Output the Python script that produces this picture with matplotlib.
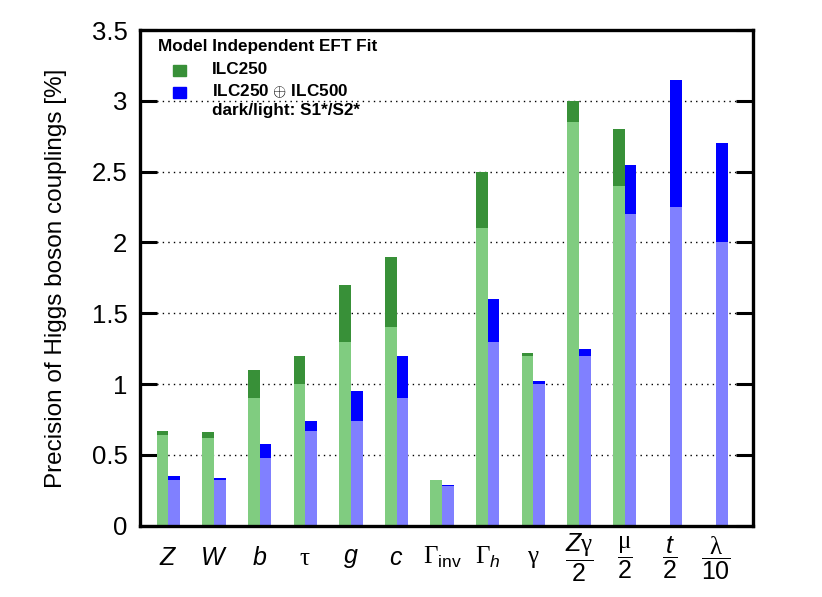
import numpy as np
import matplotlib
matplotlib.use("Agg")
import matplotlib.pyplot as plt
from matplotlib.patches import Rectangle

plt.rcParams['font.family'] = ['Liberation Sans', 'DejaVu Sans']
plt.rcParams['mathtext.fontset'] = 'custom'
plt.rcParams['mathtext.rm'] = 'Liberation Sans'
plt.rcParams['mathtext.it'] = 'Liberation Sans:italic'
plt.rcParams['mathtext.sf'] = 'Liberation Serif'

# couplings and their labels
categories = ['$Z$', '$W$', '$b$', r'$\mathsf{\tau}$', '$g$', '$c$',
              r'$\mathsf{\Gamma}_{\mathrm{inv}}$', r'$\mathsf{\Gamma}_{h}$',
              r'$\mathsf{\gamma}$', r'$\dfrac{Z\mathsf{\gamma}}{2}$',
              r'$\dfrac{\mathsf{\mu}}{2}$', r'$\dfrac{t}{2}$',
              r'$\dfrac{\mathsf{\lambda}}{10}$']

# ILC250 (dark = S1*, light = S2*)
ilc250_s1 = [0.67, 0.66, 1.10, 1.20, 1.70, 1.90, 0.32, 2.50, 1.22, 3.00, 2.80, np.nan, np.nan]
ilc250_s2 = [0.64, 0.62, 0.90, 1.00, 1.30, 1.40, 0.32, 2.10, 1.20, 2.85, 2.40, np.nan, np.nan]
# ILC250 + ILC500
ilc500_s1 = [0.35, 0.34, 0.58, 0.74, 0.95, 1.20, 0.29, 1.60, 1.02, 1.25, 2.55, 3.15, 2.70]
ilc500_s2 = [0.32, 0.32, 0.48, 0.67, 0.74, 0.90, 0.28, 1.30, 1.00, 1.20, 2.20, 2.25, 2.00]

yticks = [0, 0.5, 1, 1.5, 2, 2.5, 3, 3.5]
ytick_labels = ['0', '0.5', '1', '1.5', '2', '2.5', '3', '3.5']

dark_green = '#389038'
light_green = '#80cc80'
dark_blue = '#0000ff'
light_blue = '#8080ff'

W, H = 822, 597
fig = plt.figure(figsize=(W / 100, H / 100), dpi=100)
ax = fig.add_axes([140 / W, 1 - 525.7 / H, (753 - 140) / W, (525.7 - 30) / H])

x = np.arange(len(categories))
w = 0.256
g1 = np.array(ilc250_s1)
g2 = np.array(ilc250_s2)
b1 = np.array(ilc500_s1)
b2 = np.array(ilc500_s2)
has_g = ~np.isnan(g1)

ax.bar(x[has_g] - w / 2, g2[has_g], w, color=light_green, zorder=2)
ax.bar(x[has_g] - w / 2, (g1 - g2)[has_g], w, bottom=g2[has_g], color=dark_green, zorder=2)
ax.bar(x + w / 2, b2, w, color=light_blue, zorder=2)
ax.bar(x + w / 2, b1 - b2, w, bottom=b2, color=dark_blue, zorder=2)

ax.set_xlim(-0.62, 12.81)
ax.set_ylim(0, 3.5)
ax.set_yticks(yticks, ytick_labels)
ax.set_xticks(x, categories)
ax.yaxis.grid(True, linestyle=(0, (1, 3)), color='black', lw=1)
ax.set_axisbelow(True)

ax.tick_params(axis='y', direction='in', length=12, width=2.2, labelsize=18.5,
               right=True, pad=9)
ax.tick_params(axis='x', length=0, labelsize=18, pad=23)
for lab in ax.get_xticklabels():
    lab.set_va('center')
for s in ax.spines.values():
    s.set_linewidth(2.4)

ax.set_ylabel('Precision of Higgs boson couplings [%]', fontsize=17.5, labelpad=18)

# legend box drawn by hand
def fx(px):
    return px / W

def fy(py):
    return 1 - py / H

fs = 12.3
fig.text(fx(158), fy(46), 'Model Independent EFT Fit', fontsize=fs,
         weight='bold', va='center')
fig.patches.append(Rectangle((fx(173), fy(76)), 13 / W, 11 / H, color=dark_green,
                             transform=fig.transFigure, figure=fig))
fig.patches.append(Rectangle((fx(173), fy(98)), 13 / W, 11 / H, color=dark_blue,
                             transform=fig.transFigure, figure=fig))
fig.text(fx(212), fy(69), 'ILC250', fontsize=fs, weight='bold', va='center')
fig.text(fx(212), fy(91), 'ILC250 $\\oplus$ ILC500', fontsize=fs, weight='bold', va='center')
fig.text(fx(212), fy(111), 'dark/light: S1*/S2*', fontsize=fs, weight='bold', va='center')

fig.savefig('out.png', dpi=100)
